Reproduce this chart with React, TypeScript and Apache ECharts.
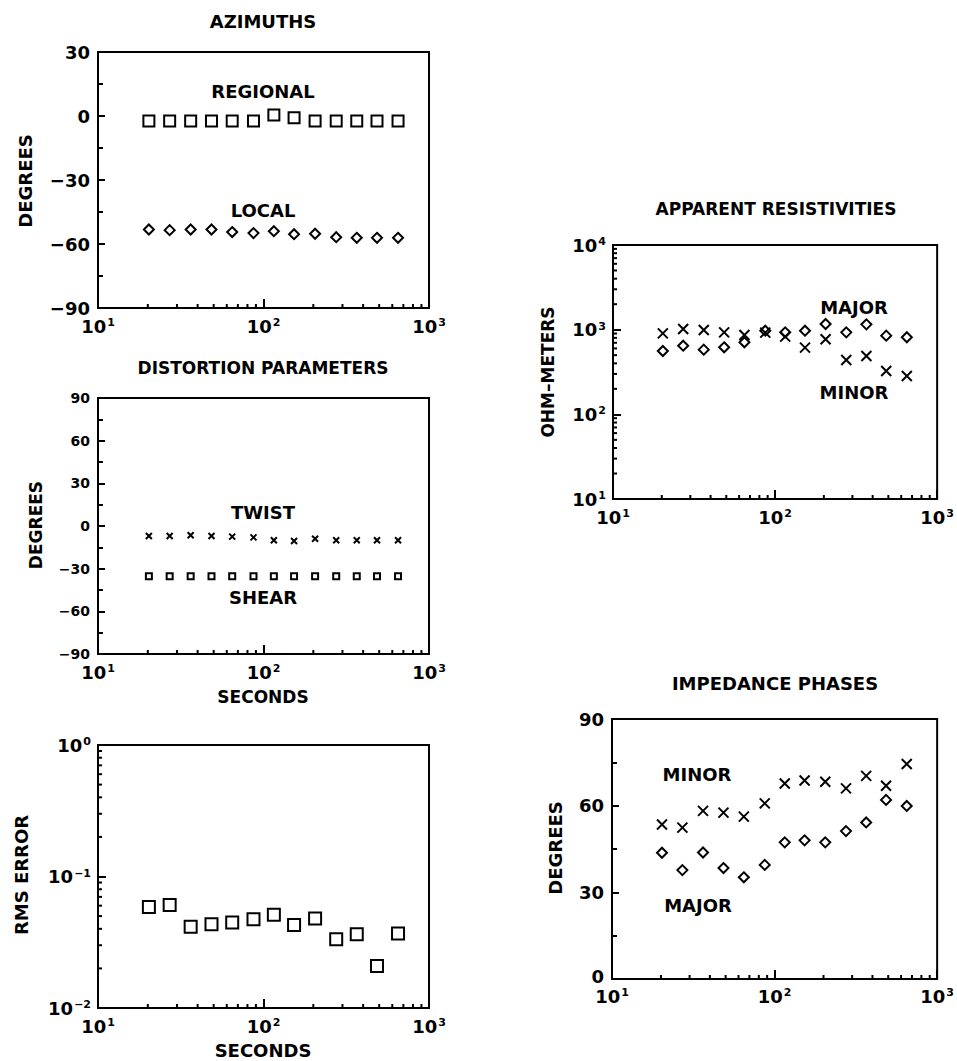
import React, { useEffect, useRef } from "react";
import * as echarts from "echarts";

// ---- data ----
const periods = [20.3, 27.1, 36.3, 48.5, 64.7, 87.0, 115.5, 153.0, 205.0, 275.0, 366.0, 485.0, 650.0];
const regionalAzimuth = [-2.3, -2.3, -2.3, -2.3, -2.3, -2.3, 0.5, -0.8, -2.3, -2.3, -2.3, -2.3, -2.3];
const localAzimuth = [-53.2, -53.5, -53.2, -53.2, -54.4, -54.9, -54.0, -55.4, -55.2, -56.8, -57.1, -57.1, -57.1];
const twist = [-7, -7, -6.5, -7, -7.5, -8, -10, -10.5, -9, -10, -10, -10, -10];
const shear = [-35.4, -35.4, -35.4, -35.4, -35.4, -35.4, -35.4, -35.4, -35.4, -35.4, -35.4, -35.4, -35.4];
const rmsError = [0.0587, 0.0608, 0.0414, 0.0434, 0.0446, 0.0473, 0.0511, 0.0428, 0.0479, 0.0334, 0.0364, 0.0209, 0.0368];
const rhoMajor = [560, 647, 581, 619, 709, 973, 930, 973, 1166, 930, 1156, 850, 813];
const rhoMinor = [905, 1018, 991, 930, 866, 922, 827, 614, 769, 439, 489, 325, 284];
const phaseMinor = [53.5, 52.4, 58.2, 57.6, 56.2, 60.8, 67.7, 68.7, 68.3, 66.0, 70.3, 66.9, 74.4];
const phaseMajor = [43.7, 37.7, 43.8, 38.4, 35.2, 39.5, 47.3, 48.0, 47.3, 51.2, 54.2, 62.0, 59.9];

const periodMinorTicks = [20, 30, 40, 50, 60, 70, 80, 90, 200, 300, 400, 500, 600, 700, 800, 900];
const rmsMinorTicks = [0.02, 0.03, 0.04, 0.05, 0.06, 0.07, 0.08, 0.09, 0.2, 0.3, 0.4, 0.5, 0.6, 0.7, 0.8, 0.9];
const ohmMinorTicks = [20, 30, 40, 50, 60, 70, 80, 90, 200, 300, 400, 500, 600, 700, 800, 900, 2000, 3000, 4000, 5000, 6000, 7000, 8000, 9000];

const FONT = "DejaVu Sans";

const pairs = (ys: number[]) => periods.map((p, i) => [p, ys[i]]);

const powLabel = (v: number) => {
  const e = Math.round(Math.log10(v));
  const s = e < 0 ? "\u2212" + Math.abs(e) : String(e);
  return "{b|10}{s|" + s + "}";
};
const powRich = (size: number) => ({
  b: { fontFamily: FONT, fontWeight: "bold", fontSize: size, lineHeight: size, color: "#000" },
  s: { fontFamily: FONT, fontWeight: "bold", fontSize: Math.round(size * 0.6), lineHeight: Math.round(size * 0.6), color: "#000", verticalAlign: "top", padding: [0, 0, 0, 1] },
});
const linLabel = (v: number) => (v < 0 ? "{n|\u2212" + Math.abs(v) + "}" : v === 0 ? "{z|0}" : "{n|" + v + "}");
const linRich = (size: number, lift: number) => ({
  n: { fontFamily: FONT, fontWeight: "bold", fontSize: size, lineHeight: size, color: "#000" },
  z: { fontFamily: FONT, fontWeight: "bold", fontSize: size, lineHeight: size, color: "#000", padding: [0, 0, lift, 0] },
});

const grids = [
  { left: 98, top: 52, width: 331, height: 256 },
  { left: 98, top: 398, width: 331, height: 256 },
  { left: 98, top: 745, width: 331, height: 263 },
  { left: 613, top: 245, width: 326, height: 254 },
  { left: 612, top: 719, width: 328, height: 260 },
];

function xAxisFor(idx: number) {
  return {
    type: "log",
    logBase: 10,
    gridIndex: idx,
    min: 10,
    max: 1000,
    axisLine: { show: true, onZero: false, lineStyle: { color: "#000", width: 2 } },
    axisTick: { show: true, inside: true, length: 9, lineStyle: { color: "#000", width: 2 } },
    splitLine: { show: false },
    axisLabel: { formatter: powLabel, rich: powRich(18), margin: idx === 4 ? 8 : 9 },
  };
}

function linYAxis(idx: number, min: number, max: number, size: number, lift = 0) {
  return {
    type: "value",
    gridIndex: idx,
    min,
    max,
    interval: 30,
    axisLine: { show: true, onZero: false, lineStyle: { color: "#000", width: 2 } },
    axisTick: { show: true, inside: true, length: 7, lineStyle: { color: "#000", width: 2 } },
    minorTick: { show: true, splitNumber: 2, length: 5, lineStyle: { color: "#000", width: 2 } },
    splitLine: { show: false },
    axisLabel: { formatter: linLabel, rich: linRich(size, lift), margin: 8 },
  };
}

function logYAxis(idx: number, min: number, max: number) {
  return {
    type: "log",
    logBase: 10,
    gridIndex: idx,
    min,
    max,
    axisLine: { show: true, onZero: false, lineStyle: { color: "#000", width: 2 } },
    axisTick: { show: true, inside: true, length: 8, lineStyle: { color: "#000", width: 2 } },
    splitLine: { show: false },
    axisLabel: { formatter: powLabel, rich: powRich(18), margin: 7 },
  };
}

function xTicks(idx: number, vals: number[], yBase: number, len: number) {
  return {
    type: "custom",
    xAxisIndex: idx,
    yAxisIndex: idx,
    silent: true,
    clip: false,
    z: 5,
    encode: { x: 0, y: 1 },
    data: vals.map((v) => [v, yBase]),
    renderItem: (_p: any, api: any) => {
      const pt = api.coord([api.value(0), api.value(1)]);
      return {
        type: "line",
        shape: { x1: pt[0], y1: pt[1], x2: pt[0], y2: pt[1] - len },
        style: { stroke: "#000", lineWidth: 2 },
      };
    },
  };
}

function yTicks(idx: number, vals: number[], xBase: number, len: number) {
  return {
    type: "custom",
    xAxisIndex: idx,
    yAxisIndex: idx,
    silent: true,
    clip: false,
    z: 5,
    encode: { x: 0, y: 1 },
    data: vals.map((v) => [xBase, v]),
    renderItem: (_p: any, api: any) => {
      const pt = api.coord([api.value(0), api.value(1)]);
      return {
        type: "line",
        shape: { x1: pt[0], y1: pt[1], x2: pt[0] + len, y2: pt[1] },
        style: { stroke: "#000", lineWidth: 2 },
      };
    },
  };
}

const CROSS = "path://M0,0L10,10M10,0L0,10";

function scatter(idx: number, ys: number[], symbol: string, size: number, bw = 2) {
  return {
    type: "scatter",
    xAxisIndex: idx,
    yAxisIndex: idx,
    symbol,
    symbolSize: size,
    data: pairs(ys),
    itemStyle: { color: symbol === CROSS ? "transparent" : "#fff", borderColor: "#000", borderWidth: bw, opacity: 1 },
    z: 3,
  };
}

function txt(text: string, x: number, y: number, size: number, rotate = false) {
  return {
    type: "text",
    x,
    y,
    rotation: rotate ? Math.PI / 2 : 0,
    style: {
      text,
      fontFamily: FONT,
      fontWeight: "bold",
      fontSize: size,
      fill: "#000",
      align: "center",
      verticalAlign: "middle",
    },
    z: 10,
  };
}

export default function App() {
  const ref = useRef<HTMLDivElement>(null);
  useEffect(() => {
    if (!ref.current) return;
    const chart = echarts.init(ref.current, undefined, { renderer: "svg" });
    const option: any = {
      animation: false,
      backgroundColor: "#fff",
      grid: grids.map((g) => ({ ...g, show: true, borderColor: "#000", borderWidth: 2, backgroundColor: "transparent" })),
      xAxis: [0, 1, 2, 3, 4].map(xAxisFor),
      yAxis: [
        linYAxis(0, -90, 30, 18),
        linYAxis(1, -90, 90, 14),
        logYAxis(2, 0.01, 1),
        logYAxis(3, 10, 10000),
        linYAxis(4, 0, 90, 18, 6),
      ],
      series: [
        xTicks(0, periodMinorTicks, -90, 4),
        xTicks(1, periodMinorTicks, -90, 4),
        xTicks(2, periodMinorTicks, 0.01, 4),
        xTicks(3, periodMinorTicks, 10, 4),
        xTicks(4, periodMinorTicks, 0, 4),
        yTicks(2, rmsMinorTicks, 10, 4),
        yTicks(3, ohmMinorTicks, 10, 4),
        scatter(0, regionalAzimuth, "rect", 11),
        scatter(0, localAzimuth, "diamond", 10),
        scatter(1, twist, CROSS, 6),
        scatter(1, shear, "rect", 6),
        scatter(2, rmsError, "rect", 12),
        scatter(3, rhoMajor, "diamond", 10),
        scatter(3, rhoMinor, CROSS, 10),
        scatter(4, phaseMinor, CROSS, 10),
        scatter(4, phaseMajor, "diamond", 10),
      ],
      graphic: [
        txt("AZIMUTHS", 263, 21, 18),
        txt("DEGREES", 25, 181, 18, true),
        txt("REGIONAL", 263, 91, 18),
        txt("LOCAL", 263, 210, 18),
        txt("DISTORTION PARAMETERS", 263, 368, 17),
        txt("DEGREES", 36, 525, 17, true),
        txt("TWIST", 263, 512, 18),
        txt("SHEAR", 263, 597, 18),
        txt("SECONDS", 263, 697, 17),
        txt("RMS ERROR", 21, 875, 18, true),
        txt("SECONDS", 263, 1050, 18),
        txt("APPARENT RESISTIVITIES", 776, 209, 17),
        txt("OHM\u2013METERS", 548, 372, 17, true),
        txt("MAJOR", 854, 307, 18),
        txt("MINOR", 854, 392, 18),
        txt("IMPEDANCE PHASES", 775, 683, 18),
        txt("DEGREES", 555, 848, 18, true),
        txt("MINOR", 697, 774, 18),
        txt("MAJOR", 698, 905, 18),
      ],
    };
    chart.setOption(option);
    return () => chart.dispose();
  }, []);
  return <div ref={ref} style={{ position: "absolute", left: 0, top: 0, width: 957, height: 1061 }} />;
}
